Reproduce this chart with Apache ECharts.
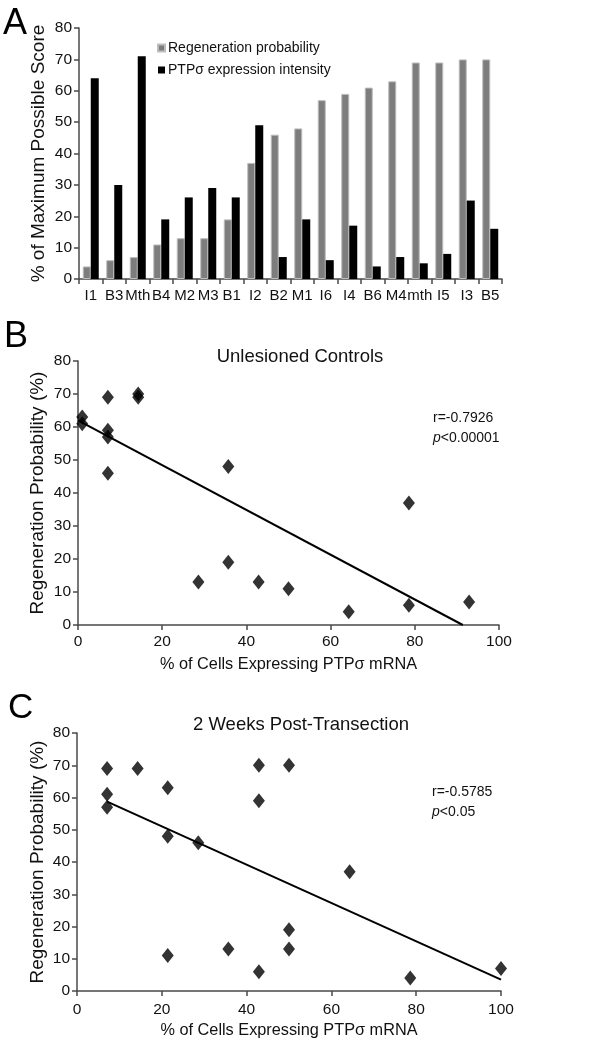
<!DOCTYPE html>
<html>
<head>
<meta charset="utf-8">
<script src="https://cdn.jsdelivr.net/npm/echarts@6/dist/echarts.min.js"></script>
<style>
html,body{margin:0;padding:0;background:#fff;}
#chart{width:610px;height:1050px;}
</style>
</head>
<body>
<div id="chart"></div>
<script>
// ---- Panel A data ----
const categories = ['I1','B3','Mth','B4','M2','M3','B1','I2','B2','M1','I6','I4','B6','M4','mth','I5','I3','B5'];
const regenProb = [4,6,7,11,13,13,19,37,46,48,57,59,61,63,69,69,70,70];
const ptpIntensity = [64,30,71,19,26,29,26,49,7,19,6,17,4,7,5,8,25,16];

// ---- Panel B data (Unlesioned Controls) ----
const unlesionedX = [1,1,7.1,7.1,7.1,7.1,14.3,14.3,35.7,35.7,28.6,42.9,50,64.3,78.6,78.6,92.9];
const unlesionedY = [63,61,69,59,57,46,70,69,48,19,13,13,11,4,37,6,7];
const fitLineB = [[0,62],[91.4,0]];

// ---- Panel C data (2 Weeks Post-Transection) ----
const transectX = [7.1,7.1,7.1,14.3,21.4,21.4,21.4,28.6,35.7,42.9,42.9,42.9,50,50,50,64.3,78.6,100];
const transectY = [69,61,57,69,63,48,11,46,13,70,59,6,70,19,13,37,4,7];
const fitLineC = [[7.1,58.7],[100,3.5]];

const FONT = '"Liberation Sans", Arial, Helvetica, sans-serif';
const AX = '#4a4a4a';
const TXT = '#111';

function pairs(xs, ys){ return xs.map((x,i)=>[x, ys[i]]); }

const axisLine = {show:true, lineStyle:{color:AX, width:1.5}};
const axisTick = {show:true, inside:false, length:5, lineStyle:{color:AX, width:1.5}};

function valueY(gridIndex, name, nameGap){
  return {
    type:'value', gridIndex, min:0, max:80, interval:10,
    name, nameLocation:'middle', nameGap, nameRotate:90, nameMoveOverlap:false,
    nameTextStyle:{fontFamily:FONT, fontSize:19, color:TXT},
    axisLine, axisTick,
    axisLabel:{fontFamily:FONT, fontSize:15.5, color:TXT, margin:7},
    splitLine:{show:false}
  };
}
function valueX(gridIndex, margin){
  return {
    type:'value', gridIndex, min:0, max:100, interval:20,
    name:'% of Cells Expressing PTPσ mRNA', nameLocation:'middle', nameGap:32, nameMoveOverlap:false,
    nameTextStyle:{fontFamily:FONT, fontSize:16.3, color:TXT},
    axisLine, axisTick,
    axisLabel:{fontFamily:FONT, fontSize:15.5, color:TXT, margin},
    splitLine:{show:false}
  };
}

const chart = echarts.init(document.getElementById('chart'), null, {renderer:'canvas'});

const option = {
  backgroundColor:'#fff',
  animation:false,
  textStyle:{fontFamily:FONT},
  grid:[
    {left:79, top:28, width:423, height:251},
    {left:78, top:361, width:421, height:264},
    {left:77, top:733, width:424, height:258}
  ],
  legend:{
    left:152, top:36, orient:'vertical', itemWidth:7, itemHeight:7, itemGap:8,
    icon:'rect',
    textStyle:{fontFamily:FONT, fontSize:14, color:TXT, padding:[0,0,0,-2]},
    data:['Regeneration probability','PTPσ expression intensity']
  },
  xAxis:[
    {
      type:'category', gridIndex:0, data:categories, boundaryGap:true,
      axisLine, axisTick:Object.assign({}, axisTick, {interval:0, alignWithLabel:false}),
      axisLabel:{fontFamily:FONT, fontSize:15, color:TXT, interval:0, margin:9},
      splitLine:{show:false}
    },
    valueX(1, 9),
    valueX(2, 11)
  ],
  yAxis:[
    valueY(0, '% of Maximum Possible Score', 31),
    valueY(1, 'Regeneration Probability (%)', 31),
    valueY(2, 'Regeneration Probability (%)', 30)
  ],
  series:[
    {
      name:'Regeneration probability', type:'bar', xAxisIndex:0, yAxisIndex:0,
      data:regenProb, barWidth:8, barGap:'0%',
      itemStyle:{color:'#7d7d7d', borderColor:'#bdbdbd', borderWidth:1}
    },
    {
      name:'PTPσ expression intensity', type:'bar', xAxisIndex:0, yAxisIndex:0,
      data:ptpIntensity, barWidth:8, barGap:'0%',
      itemStyle:{color:'#000'}
    },
    {
      type:'line', xAxisIndex:1, yAxisIndex:1, data:fitLineB, symbol:'none',
      lineStyle:{color:'#000', width:2}, z:2
    },
    {
      type:'scatter', xAxisIndex:1, yAxisIndex:1, data:pairs(unlesionedX, unlesionedY),
      symbol:'diamond', symbolSize:[12,15], itemStyle:{color:'#000'}, z:3
    },
    {
      type:'line', xAxisIndex:2, yAxisIndex:2, data:fitLineC, symbol:'none',
      lineStyle:{color:'#000', width:2}, z:2
    },
    {
      type:'scatter', xAxisIndex:2, yAxisIndex:2, data:pairs(transectX, transectY),
      symbol:'diamond', symbolSize:[12,15], itemStyle:{color:'#000'}, z:3
    }
  ],
  graphic:[
    {type:'text', left:3, top:6, style:{text:'A', font:'36px '+FONT, fill:'#000'}},
    {type:'text', left:4, top:319, style:{text:'B', font:'36px '+FONT, fill:'#000'}},
    {type:'text', left:8, top:691, style:{text:'C', font:'35px '+FONT, fill:'#000'}},
    {type:'text', x:300, y:357, style:{text:'Unlesioned Controls', font:'18.5px '+FONT, fill:TXT, textAlign:'center', textVerticalAlign:'middle'}},
    {type:'text', x:301, y:725, style:{text:'2 Weeks Post-Transection', font:'18.5px '+FONT, fill:TXT, textAlign:'center', textVerticalAlign:'middle'}},
    {type:'text', x:433, y:418, style:{text:'r=-0.7926', font:'14px '+FONT, fill:TXT, textVerticalAlign:'middle'}},
    {type:'text', x:433, y:438, style:{text:'{i|p}<0.00001', font:'14px '+FONT, fill:TXT, textVerticalAlign:'middle',
      rich:{i:{fontStyle:'italic', fontFamily:FONT, fontSize:14}}}},
    {type:'text', x:432, y:792, style:{text:'r=-0.5785', font:'14px '+FONT, fill:TXT, textVerticalAlign:'middle'}},
    {type:'text', x:432, y:812, style:{text:'{i|p}<0.05', font:'14px '+FONT, fill:TXT, textVerticalAlign:'middle',
      rich:{i:{fontStyle:'italic', fontFamily:FONT, fontSize:14}}}}
  ]
};
chart.setOption(option);
</script>
</body>
</html>
